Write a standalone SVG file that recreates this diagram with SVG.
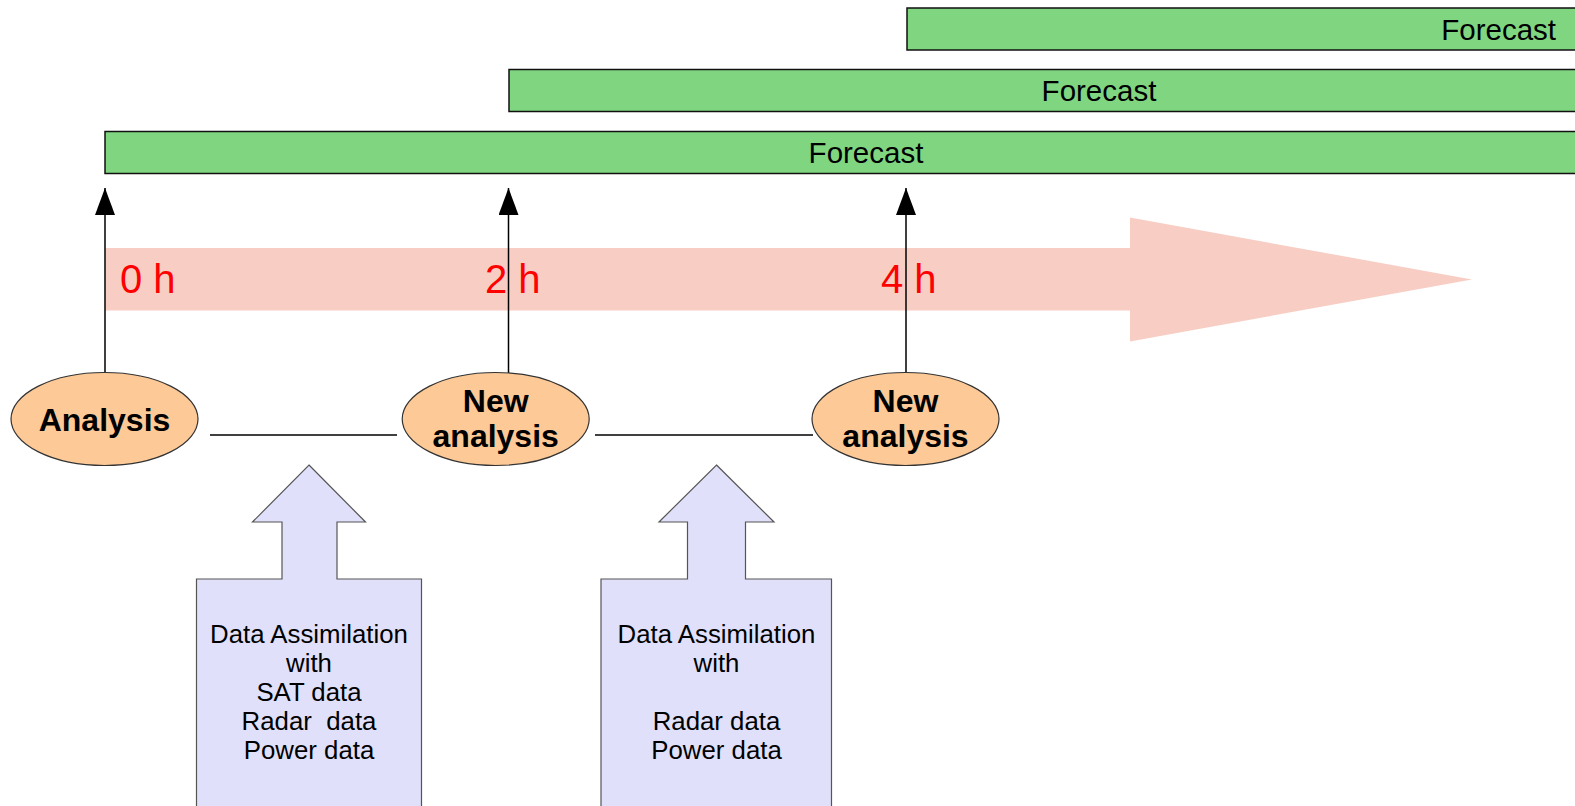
<svg xmlns="http://www.w3.org/2000/svg" width="1575" height="806" viewBox="0 0 1575 806">
<style>
.bar{fill:#80D680;stroke:#111;stroke-width:1.5}
.fc{font-family:"Liberation Sans",Arial,sans-serif;font-size:29.5px;fill:#000}
.hr{font-family:"Liberation Sans",Arial,sans-serif;font-size:40px;fill:#FF0000}
.ell{fill:#FCC997;stroke:#333;stroke-width:1.2}
.et{font-family:"Liberation Sans",Arial,sans-serif;font-size:32px;font-weight:bold;fill:#000;text-anchor:middle}
.blk{fill:#E0E0FB;stroke:#555;stroke-width:1.2}
.bt{font-family:"Liberation Sans",Arial,sans-serif;font-size:25.8px;fill:#000;text-anchor:middle;white-space:pre}
.ln{stroke:#000;stroke-width:1.5;fill:none}
</style>
<defs>
<marker id="ah" markerWidth="28" markerHeight="20" refX="27" refY="10" orient="auto" markerUnits="userSpaceOnUse" viewBox="0 0 28 20">
<path d="M0,0 L27,10 L0,20 Z" fill="#000"/>
</marker>
</defs>
<g id="timeline">
<path d="M105.5,248 H1130 V217.5 L1472,279.5 L1130,341.5 V310.5 H105.5 Z" fill="#F8CEC4"/>
</g>
<g id="forecast3"><rect class="bar" x="907" y="8" width="680" height="42"/><text class="fc" x="1556" y="39.5" text-anchor="end">Forecast</text></g>
<g id="forecast2"><rect class="bar" x="509" y="69.5" width="1080" height="42"/><text class="fc" x="1099" y="100.5" text-anchor="middle">Forecast</text></g>
<g id="forecast1"><rect class="bar" x="105" y="131.5" width="1480" height="42"/><text class="fc" x="866" y="162.5" text-anchor="middle">Forecast</text></g>
<g id="connectors">
<line class="ln" x1="105" y1="373" x2="105" y2="188" marker-end="url(#ah)"/>
<line class="ln" x1="508.5" y1="373" x2="508.5" y2="188" marker-end="url(#ah)"/>
<line class="ln" x1="906" y1="373" x2="906" y2="188" marker-end="url(#ah)"/>
<line class="ln" x1="210" y1="435" x2="397" y2="435"/>
<line class="ln" x1="595" y1="435" x2="813" y2="435"/>
</g>
<g id="labels-hours">
<text class="hr" x="120" y="293">0 h</text>
<text class="hr" x="485" y="293">2 h</text>
<text class="hr" x="881" y="293">4 h</text>
</g>
<g id="analysis0"><ellipse class="ell" cx="104.5" cy="419" rx="93.5" ry="46.5"/><text class="et" x="104.5" y="431">Analysis</text></g>
<g id="analysis2"><ellipse class="ell" cx="495.7" cy="419" rx="93.5" ry="46.5"/><text class="et" x="495.7" y="412">New</text><text class="et" x="495.7" y="447">analysis</text></g>
<g id="analysis4"><ellipse class="ell" cx="905.5" cy="419" rx="93.5" ry="46.5"/><text class="et" x="905.5" y="412">New</text><text class="et" x="905.5" y="447">analysis</text></g>
<g id="da1">
<path class="blk" d="M309,465 L365.5,522 H337 V579 H421.5 V820 H196.5 V579 H282 V522 H252.5 Z"/>
<text class="bt" x="309" y="642.5">Data Assimilation</text>
<text class="bt" x="309" y="671.5">with</text>
<text class="bt" x="309" y="700.5">SAT data</text>
<text class="bt" x="309" y="730">Radar  data</text>
<text class="bt" x="309" y="759">Power data</text>
</g>
<g id="da2">
<path class="blk" d="M716.5,465 L774,522 H745.5 V579 H831.5 V820 H601 V579 H687.5 V522 H659 Z"/>
<text class="bt" x="716.5" y="642.5">Data Assimilation</text>
<text class="bt" x="716.5" y="671.5">with</text>
<text class="bt" x="716.5" y="730">Radar data</text>
<text class="bt" x="716.5" y="759">Power data</text>
</g>
</svg>
